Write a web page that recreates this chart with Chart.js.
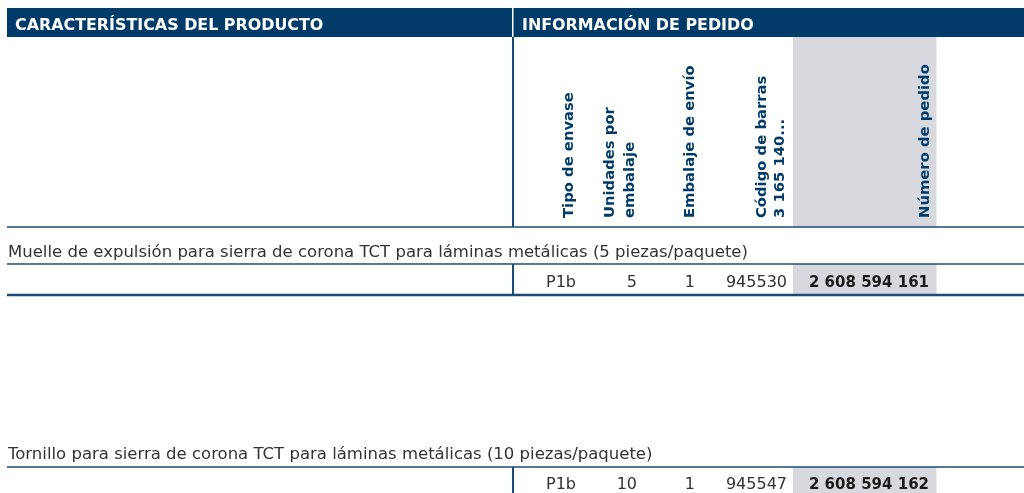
<!DOCTYPE html>
<html>
<head>
<meta charset="utf-8">
<script src="https://cdn.jsdelivr.net/npm/chart.js@4"></script>
<style>
  html, body { margin: 0; padding: 0; background: #fff; }
  canvas { display: block; }
</style>
</head>
<body>
<canvas id="tabla" width="1024" height="493"></canvas>
<script>
// Datos de la tabla
const sectionTitles = ['CARACTERÍSTICAS DEL PRODUCTO', 'INFORMACIÓN DE PEDIDO'];
const orderHeaders = [
    ['Tipo de envase'],
    ['Unidades por', 'embalaje'],
    ['Embalaje de envío'],
    ['Código de barras', '3 165 140...'],
    ['Número de pedido']
];
const products = [
    'Muelle de expulsión para sierra de corona TCT para láminas metálicas (5 piezas/paquete)',
    'Tornillo para sierra de corona TCT para láminas metálicas (10 piezas/paquete)'
];
const packType = ['P1b', 'P1b'];
const unitsPerPack = [5, 10];
const shippingPack = [1, 1];
const barcodes = ['945530', '945547'];
const orderNumbers = ['2 608 594 161', '2 608 594 162'];

// Mise en page (pixels du tableau)
const BLUE = '#003b6a';
const LINE = '#1c4b75';
const GREY = '#d8d9de';
const TEXT = '#333333';
const FONT = '"DejaVu Sans", sans-serif';
const colRight = [576, 637, 695, 787, 929];
const headerX = [[569], [610, 630], [690], [762, 780], [925]];
const productBase = [257, 459];
const rowBase = [287, 488.5];
const rowTop = [264, 467];
const rowBottom = [295, 497];

const tablePlugin = {
    id: 'tablePlugin',
    beforeDatasetsDraw(chart) {
        const ctx = chart.ctx;
        const sx = chart.scales.x;
        const sy = chart.scales.y;
        const X = v => sx.getPixelForValue(v);
        const Y = v => sy.getPixelForValue(v);

        const rect = (x0, y0, x1, y1, col) => {
            ctx.fillStyle = col;
            ctx.fillRect(X(x0), Y(y0), X(x1) - X(x0), Y(y1) - Y(y0));
        };
        const hline = (x0, x1, y, w) => {
            ctx.strokeStyle = LINE;
            ctx.lineWidth = w;
            ctx.beginPath();
            ctx.moveTo(X(x0), Y(y));
            ctx.lineTo(X(x1), Y(y));
            ctx.stroke();
        };

        ctx.save();
        // barre d'en-tête
        rect(7, 8, 512, 37, BLUE);
        rect(513.5, 8, 1024, 37, BLUE);
        ctx.fillStyle = '#ffffff';
        ctx.font = 'bold 15.9px ' + FONT;
        ctx.textBaseline = 'alphabetic';
        ctx.textAlign = 'left';
        ctx.fillText(sectionTitles[0], X(15), Y(30));
        ctx.fillText(sectionTitles[1], X(522), Y(30));

        // colonne grise
        rect(793, 37, 936.5, 227, GREY);
        for (let i = 0; i < rowTop.length; i++) {
            rect(793, rowTop[i], 936.5, rowBottom[i], GREY);
        }

        // séparateur vertical
        rect(512, 37, 514, 227, LINE);
        for (let i = 0; i < rowTop.length; i++) {
            rect(512, rowTop[i], 514, rowBottom[i], LINE);
        }

        // en-têtes verticaux
        ctx.fillStyle = BLUE;
        ctx.font = 'bold 14.8px ' + FONT;
        ctx.textAlign = 'left';
        ctx.textBaseline = 'middle';
        orderHeaders.forEach((lines, c) => {
            lines.forEach((txt, k) => {
                ctx.save();
                ctx.translate(X(headerX[c][k]), Y(218));
                ctx.rotate(-Math.PI / 2);
                ctx.fillText(txt, 0, 0);
                ctx.restore();
            });
        });

        // lignes horizontales
        hline(7, 1024, 227, 1.5);
        for (let i = 0; i < rowTop.length; i++) {
            hline(7, 1024, rowTop[i], 1.5);
            hline(7, 1024, rowBottom[i], 2.5);
        }

        // lignes de produits
        ctx.textBaseline = 'alphabetic';
        products.forEach((name, i) => {
            ctx.fillStyle = TEXT;
            ctx.font = '16.5px ' + FONT;
            ctx.textAlign = 'left';
            ctx.fillText(name, X(8), Y(productBase[i]));

            const cells = [packType[i], String(unitsPerPack[i]), String(shippingPack[i]), barcodes[i]];
            ctx.font = '16px ' + FONT;
            ctx.textAlign = 'right';
            cells.forEach((v, c) => ctx.fillText(v, X(colRight[c]), Y(rowBase[i])));
            ctx.fillStyle = '#1a1a1a';
            ctx.font = 'bold 15px ' + FONT;
            ctx.fillText(orderNumbers[i], X(colRight[4]), Y(rowBase[i]));
        });
        ctx.restore();
    }
};

new Chart(document.getElementById('tabla'), {
    type: 'scatter',
    data: { datasets: [{ data: [], pointRadius: 0 }] },
    options: {
        responsive: false,
        animation: false,
        layout: { padding: 0 },
        plugins: { legend: { display: false }, tooltip: { enabled: false } },
        scales: {
            x: { type: 'linear', min: 0, max: 1024, display: false },
            y: { type: 'linear', min: 0, max: 493, reverse: true, display: false }
        }
    },
    plugins: [tablePlugin]
});
</script>
</body>
</html>
